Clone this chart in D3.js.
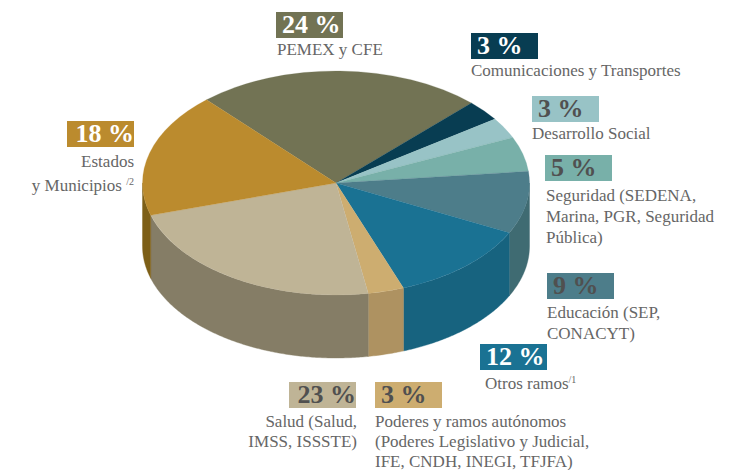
<!DOCTYPE html>
<html>
<head>
<meta charset="utf-8">
<script src="https://cdn.jsdelivr.net/npm/d3@7"></script>
<style>
    html, body { margin: 0; padding: 0; background: #fff; }
    text { font-family: "Liberation Serif", serif; white-space: pre; }
</style>
</head>
<body>
<div id="chart"></div>
<script>

const categories = ["PEMEX y CFE", "Comunicaciones y Transportes", "Desarrollo Social", "Seguridad", "Educación", "Otros ramos", "Poderes y ramos autónomos", "Salud", "Estados y Municipios"];
const values = [24, 3, 3, 5, 9, 12, 3, 23, 18];

const topColors = ["#727354", "#083d52", "#98c3c6", "#78b0a9", "#4d7d8a", "#1a7293", "#cdad70", "#bfb496", "#bb8b2e"];
const sideColors = ["#5c5d43", "#062f40", "#7b9fa1", "#5f8e88", "#3f6b72", "#17637f", "#ae9261", "#857d66", "#7d5f17"];
const percentColors = ["#fff", "#fff", "#505050", "#505050", "#505050", "#fff", "#505050", "#505050", "#fff"];

// text lines of every label, sup = small footnote mark
const labelLines = [
    [{ t: "PEMEX y CFE" }],
    [{ t: "Comunicaciones y Transportes" }],
    [{ t: "Desarrollo Social" }],
    [{ t: "Seguridad (SEDENA," }, { t: "Marina, PGR, Seguridad" }, { t: "Pública)" }],
    [{ t: "Educación (SEP," }, { t: "CONACYT)" }],
    [{ t: "Otros ramos", sup: "/1" }],
    [{ t: "Poderes y ramos autónomos" }, { t: "(Poderes Legislativo y Judicial," }, { t: "IFE, CNDH, INEGI, TFJFA)" }],
    [{ t: "Salud (Salud," }, { t: "IMSS, ISSSTE)" }],
    [{ t: "Estados" }, { t: "y Municipios ", sup: "/2" }]
];

const width = 729;
const height = 470;
const cx = 336;
const cy = 183;
const rx = 193.5;
const ry = 112;
const depth = 63;

const svg = d3.select("#chart")
    .append("svg")
    .attr("width", width)
    .attr("height", height)
    .style("display", "block");

const slices = d3.pie()
    .sort(null)
    .startAngle(-42 * Math.PI / 180)
    .endAngle(318 * Math.PI / 180)(values);

// side wall, only the front half of the cake is visible
const wall = d3.area()
    .x(function (a) { return cx + rx * Math.sin(a) })
    .y0(function (a) { return cy - ry * Math.cos(a) })
    .y1(function (a) { return cy - ry * Math.cos(a) + depth });

svg.selectAll("path.side")
    .data(slices)
    .enter()
    .append("path")
    .attr("class", "side")
    .attr("d", function (d) {
        const a0 = Math.max(d.startAngle, Math.PI / 2);
        const a1 = Math.min(d.endAngle, Math.PI * 1.5);
        if (a0 >= a1) return null;
        return wall(d3.range(a0, a1, 0.01).concat([a1]));
    })
    .attr("fill", function (d, i) { return sideColors[i] })
    .attr("stroke", function (d, i) { return sideColors[i] })
    .attr("stroke-width", 0.4);

// top face, a unit pie squashed into the ellipse
const arc = d3.arc().innerRadius(0).outerRadius(100);

const topFace = svg.append("g")
    .attr("transform", "translate(" + cx + "," + cy + ") scale(" + rx / 100 + "," + ry / 100 + ")");

topFace.selectAll("path.slice")
    .data(slices)
    .enter()
    .append("path")
    .attr("class", "slice")
    .attr("d", arc)
    .attr("fill", function (d, i) { return topColors[i] })
    .attr("stroke", function (d, i) { return topColors[i] })
    .attr("stroke-width", 0.15);

// label placement, same order as categories
const boxX = [276, 471, 532, 545, 547, 480, 375, 289, 67];
const boxY = [12, 33, 96, 155, 273, 344, 382, 382, 121];
const textX = [277, 471, 532, 546, 547, 485, 375, 357, 134];
const textY = [[55], [76], [139], [201, 222, 243], [318, 339], [389], [427, 447, 467], [427, 447], [167, 191]];
const anchors = ["start", "start", "start", "start", "start", "start", "start", "end", "end"];
const boxW = 67;
const boxH = 26;

const labels = svg.selectAll("g.label")
    .data(categories)
    .enter()
    .append("g")
    .attr("class", "label");

labels.append("rect")
    .attr("x", function (d, i) { return boxX[i] })
    .attr("y", function (d, i) { return boxY[i] })
    .attr("width", boxW)
    .attr("height", boxH)
    .attr("fill", function (d, i) { return topColors[i] });

labels.append("text")
    .attr("x", function (d, i) { return anchors[i] === "end" ? boxX[i] + boxW : boxX[i] + 6 })
    .attr("y", function (d, i) { return boxY[i] + 21 })
    .attr("text-anchor", function (d, i) { return anchors[i] })
    .attr("font-size", 26)
    .attr("font-weight", "bold")
    .attr("fill", function (d, i) { return percentColors[i] })
    .text(function (d, i) { return values[i] + " %" });

labels.each(function (d, i) {
    const rows = d3.select(this).selectAll("text.row")
        .data(labelLines[i])
        .enter()
        .append("text")
        .attr("class", "row")
        .attr("x", textX[i])
        .attr("y", function (l, j) { return textY[i][j] })
        .attr("text-anchor", anchors[i])
        .attr("font-size", 17)
        .attr("fill", "#666");

    rows.append("tspan").text(function (l) { return l.t });
    rows.filter(function (l) { return l.sup })
        .append("tspan")
        .attr("font-size", 10)
        .attr("dy", -6)
        .text(function (l) { return l.sup });
});

</script>
</body>
</html>
